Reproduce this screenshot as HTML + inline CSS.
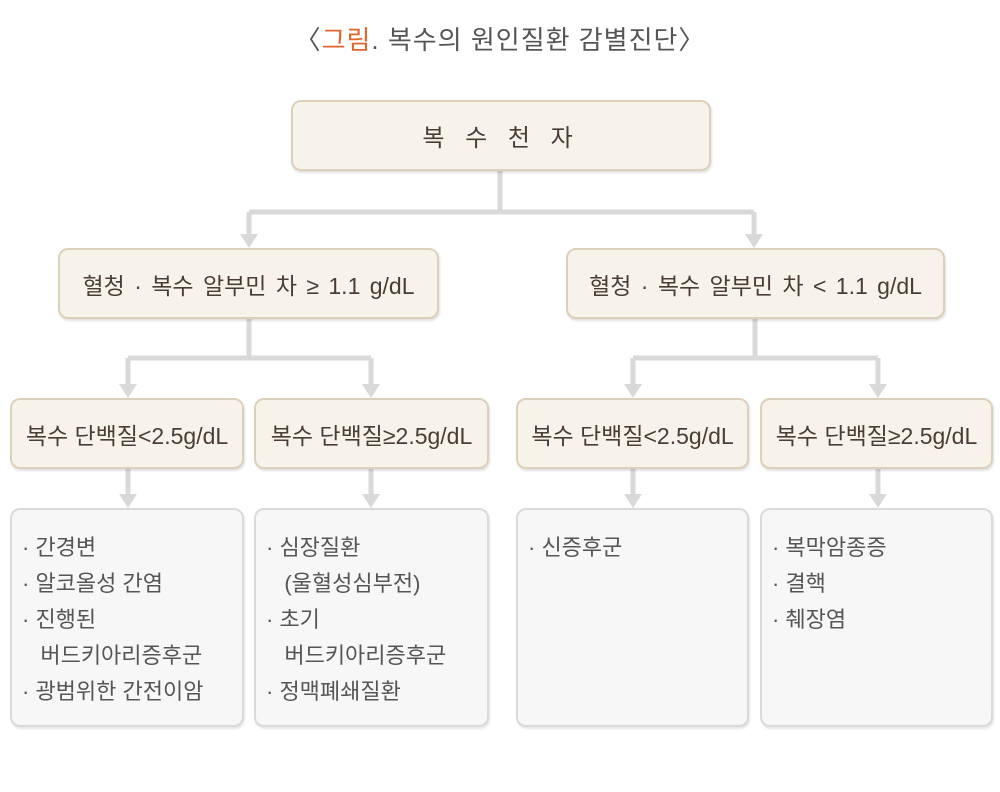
<!DOCTYPE html>
<html><head><meta charset="utf-8"><style>
body{margin:0;width:1000px;height:792px;background:#fff;font-family:"Liberation Sans","Noto Sans CJK KR",sans-serif;position:relative;overflow:hidden}
.b{position:absolute;box-sizing:border-box;background:#f8f3ea;border:2px solid #ddd0bb;border-radius:10px;box-shadow:1px 2px 2px rgba(0,0,0,.12);display:flex;align-items:center;justify-content:center;color:#4a3d33;font-size:23px;white-space:nowrap}
.g{position:absolute;box-sizing:border-box;background:#f7f7f7;border:2px solid #dadada;border-radius:10px;box-shadow:1px 2px 2px rgba(0,0,0,.1);color:#555;font-size:22px;line-height:36px;padding:20px 0 0 10px}
.t{position:absolute;top:20px;width:1000px;text-align:center;font-size:26px;color:#555;letter-spacing:1px}
svg{position:absolute;left:0;top:0}
</style></head><body>
<div class="t">〈<span style="color:#e2652c">그림</span>. 복수의 원인질환 감별진단〉</div>
<svg width="1000" height="792">
<g stroke="#d9d9d9" stroke-width="5" fill="none">
<path d="M500 170V212M249 212H754M249 212V236M754 212V236"/>
<path d="M249 318V358M128 358H371M128 358V386M371 358V386"/>
<path d="M755 318V358M633 358H878M633 358V386M878 358V386"/>
<path d="M128 468V496M371 468V496M633 468V496M878 468V496"/>
</g>
<g fill="#d9d9d9">
<path d="M240 234h18l-9 14z M745 234h18l-9 14z"/>
<path d="M119 384h18l-9 14z M362 384h18l-9 14z M624 384h18l-9 14z M869 384h18l-9 14z"/>
<path d="M119 494h18l-9 14z M362 494h18l-9 14z M624 494h18l-9 14z M869 494h18l-9 14z"/>
</g></svg>
<div class="b" style="left:291px;top:100px;width:420px;height:71px;font-size:24px;letter-spacing:7px">복 수 천 자</div>
<div class="b" style="left:58px;top:248px;width:381px;height:71px;word-spacing:3px">혈청 · 복수 알부민 차 ≥ 1.1 g/dL</div>
<div class="b" style="left:566px;top:248px;width:379px;height:71px;word-spacing:3px">혈청 · 복수 알부민 차 &lt; 1.1 g/dL</div>
<div class="b" style="left:10px;top:398px;width:234px;height:71px">복수 단백질&lt;2.5g/dL</div>
<div class="b" style="left:254px;top:398px;width:235px;height:71px">복수 단백질≥2.5g/dL</div>
<div class="b" style="left:516px;top:398px;width:233px;height:71px">복수 단백질&lt;2.5g/dL</div>
<div class="b" style="left:760px;top:398px;width:233px;height:71px">복수 단백질≥2.5g/dL</div>
<div class="g" style="left:10px;top:508px;width:234px;height:219px">· 간경변<br>· 알코올성 간염<br>· 진행된<br>&nbsp;&nbsp;&nbsp;버드키아리증후군<br>· 광범위한 간전이암</div>
<div class="g" style="left:254px;top:508px;width:235px;height:219px">· 심장질환<br>&nbsp;&nbsp;&nbsp;(울혈성심부전)<br>· 초기<br>&nbsp;&nbsp;&nbsp;버드키아리증후군<br>· 정맥폐쇄질환</div>
<div class="g" style="left:516px;top:508px;width:233px;height:219px">· 신증후군</div>
<div class="g" style="left:760px;top:508px;width:233px;height:219px">· 복막암종증<br>· 결핵<br>· 췌장염</div>
</body></html>
